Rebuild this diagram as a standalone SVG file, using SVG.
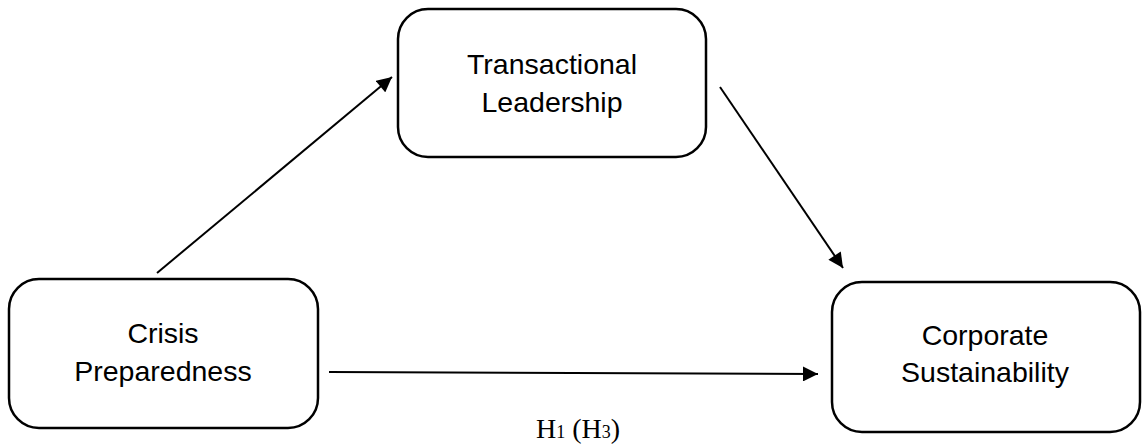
<svg xmlns="http://www.w3.org/2000/svg" width="1142" height="448" viewBox="0 0 1142 448">
<style>
.box{fill:#fff;stroke:#000;stroke-width:2.5}
.lbl{font-family:"Liberation Sans",Arial,sans-serif;font-size:28.5px;fill:#000;text-anchor:middle}
.edge{stroke:#000;stroke-width:2;fill:none}
.hyp{font-family:"Liberation Serif","Times New Roman",serif;font-size:28px;fill:#000}
</style>
<defs>
<marker id="ah" viewBox="0 0 10 10" refX="10" refY="5" markerWidth="16" markerHeight="15" markerUnits="userSpaceOnUse" orient="auto">
<path d="M0,0 L10,5 L0,10 Z" fill="#000"/>
</marker>
</defs>
<rect width="1142" height="448" fill="#fff"/>
<g id="connectors">
<line class="edge" x1="157" y1="273" x2="392" y2="77" marker-end="url(#ah)"/>
<line class="edge" x1="720" y1="87" x2="843" y2="268" marker-end="url(#ah)"/>
<line class="edge" x1="329" y1="372" x2="818" y2="374" marker-end="url(#ah)"/>
</g>
<g id="node-transactional">
<rect class="box" x="398" y="9" width="308" height="148" rx="30"/>
<text class="lbl" x="552" y="74">Transactional</text>
<text class="lbl" x="552" y="112">Leadership</text>
</g>
<g id="node-crisis">
<rect class="box" x="9" y="279" width="309" height="149" rx="30"/>
<text class="lbl" x="163" y="343">Crisis</text>
<text class="lbl" x="163" y="381">Preparedness</text>
</g>
<g id="node-corporate">
<rect class="box" x="832" y="282" width="308" height="150" rx="30"/>
<text class="lbl" x="985" y="345">Corporate</text>
<text class="lbl" x="985" y="382">Sustainability</text>
</g>
<g id="label-h1">
<text class="hyp" x="578" y="438" text-anchor="middle">H<tspan font-size="18">1</tspan> (H<tspan font-size="18">3</tspan>)</text>
</g>
</svg>
